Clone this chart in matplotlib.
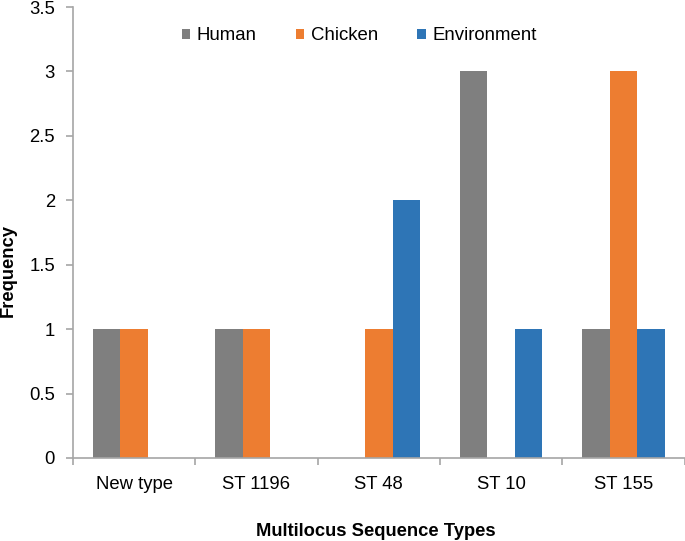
import matplotlib
matplotlib.use("Agg")
import matplotlib.pyplot as plt
import numpy as np

plt.rcParams['font.family'] = ['Liberation Sans', 'DejaVu Sans']

# data
categories = ['New type', 'ST 1196', 'ST 48', 'ST 10', 'ST 155']
human = [1, 1, 0, 3, 1]
chicken = [1, 1, 1, 0, 3]
environment = [0, 0, 2, 1, 1]
series_names = ['Human', 'Chicken', 'Environment']
colors = ['#7F7F7F', '#ED7D31', '#2E75B6']

fig = plt.figure(figsize=(6.85, 5.41), dpi=100)
ax = fig.add_axes([73 / 685, 83 / 541, 611.5 / 685, 451 / 541])

x = np.arange(len(categories))
w = 0.225
for i, (vals, name, c) in enumerate(zip([human, chicken, environment], series_names, colors)):
    ax.bar(x + (i - 1) * w, vals, width=w, color=c, label=name, zorder=2)

ax.set_xlim(-0.5, len(categories) - 0.5)
ax.set_ylim(0, 3.5)
ax.set_yticks(np.arange(0, 3.51, 0.5))
ax.set_yticklabels(['0', '0.5', '1', '1.5', '2', '2.5', '3', '3.5'])
ax.set_xticks(x)
ax.set_xticklabels(categories)
ax.set_xticks(np.arange(-0.5, len(categories), 1), minor=True)

for s in ['top', 'right']:
    ax.spines[s].set_visible(False)
for s in ['left', 'bottom']:
    ax.spines[s].set_color('#A6A6A6')
    ax.spines[s].set_linewidth(1.2)

ax.tick_params(axis='x', which='major', length=0, pad=13, labelsize=13.3)
ax.tick_params(axis='x', which='minor', length=5, color='#A6A6A6', width=1.2)
ax.tick_params(axis='y', length=5, color='#A6A6A6', width=1.2, pad=8, labelsize=13.3)

fig.text(0.012, 0.5, 'Frequency', rotation=90, ha='center', va='center',
         fontsize=13.2, fontweight='bold')
fig.text(0.549, 0.017, 'Multilocus Sequence Types', ha='center', va='center',
         fontsize=13.2, fontweight='bold')

ax.legend(loc='center', bbox_to_anchor=(0.468, 0.936), ncol=3, frameon=False,
          fontsize=13.4, handlelength=0.45, handleheight=0.45, handletextpad=0.35,
          columnspacing=2.1)

fig.savefig('out.png', dpi=100)
